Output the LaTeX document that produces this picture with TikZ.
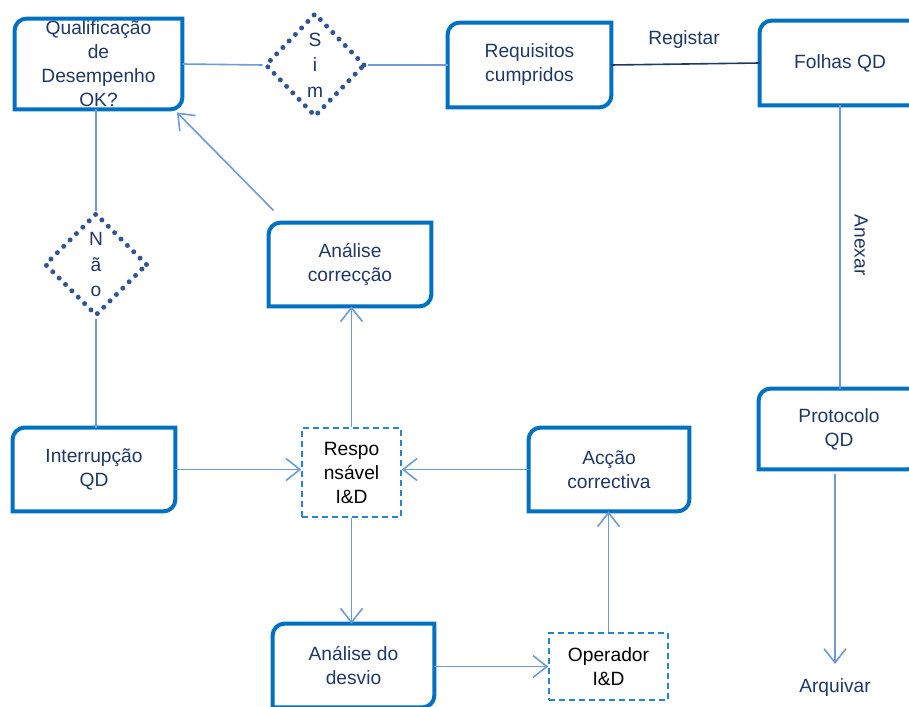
\documentclass[tikz,border=0pt]{standalone}
\usepackage{fontspec}
\setmainfont{Liberation Sans}
\usepackage{tikz}
\usetikzlibrary{shapes.geometric,arrows.meta}

\definecolor{qdblue}{HTML}{0070C0}
\definecolor{qdline}{HTML}{6D9BD6}
\definecolor{qdtext}{HTML}{1F3864}
\definecolor{qddot}{HTML}{2F5597}

\tikzset{
  box/.style={inner sep=0pt, text=qdtext, align=center},
  dbox/.style={draw=qdblue!85, line width=0.75pt, dash pattern=on 3pt off 2pt,
    inner sep=0pt, align=center},
  dmd/.style={diamond, draw=qddot, line width=2.5pt, line cap=round,
    dash pattern=on 0pt off 4.5pt, inner sep=0pt, text=qdtext, align=center},
  con/.style={draw=qdline, line width=0.8pt},
  arr/.style={con, -{Straight Barb[length=7pt,width=11pt]}},
  lbl/.style={text=qdtext},
}

\begin{document}
\begin{tikzpicture}[x=0.5pt,y=-0.5pt,font=\fontsize{9.6}{12}\selectfont]
      \useasboundingbox (0,0) rectangle (909,706);
      \clip (0,0) rectangle (909,706);

      % top row
      \node[box, minimum width=83.5pt, minimum height=45pt] (qual) at (98.5,64) {Qualificação\\de\\Desempenho\\OK?};
      \node[dmd, minimum width=50pt, minimum height=52pt, font=\fontsize{9.6}{12.8}\selectfont] (sim) at (315,65) {S\\i\\m};
      \node[box, minimum width=81.5pt, minimum height=42pt] (req) at (529.5,65) {Requisitos\\cumpridos};
      \node[box, minimum width=80pt, minimum height=42pt] (folhas) at (840,63) {Folhas QD};

      % middle
      \node[dmd, minimum width=51.5pt, minimum height=51.5pt, font=\fontsize{9.6}{12.8}\selectfont] (nao) at (96,264.5) {N\\ã\\o};
      \node[box, minimum width=81pt, minimum height=41.5pt] (analcor) at (350,264.5) {Análise\\correcção};
      \node[box, minimum width=80pt, minimum height=40pt] (protocolo) at (839,429) {Protocolo\\QD};

      % lower part
      \node[box, minimum width=81pt, minimum height=41.5pt] (interr) at (94,469.5) {Interrupção\\QD};
      \node[dbox, minimum width=49.5pt, minimum height=44.5pt] (resp) at (351.5,472.5) {Respo\\nsável\\I\&D};
      \node[box, minimum width=80pt, minimum height=41.5pt] (acc) at (609,469.5) {Acção\\correctiva};
      \node[box, minimum width=80.5pt, minimum height=41.5pt] (analdes) at (353.5,665.5) {Análise do\\desvio};
      \node[dbox, minimum width=59.5pt, minimum height=33.5pt] (oper) at (608.5,666.5) {Operador\\I\&D};

      % labels
      \node[lbl] (reg) at (684,40) {Registar};
      \node[lbl, rotate=-90] (anx) at (861,245) {Anexar};
      \node[lbl] (arq) at (835,688) {Arquivar};

      % box outlines, round top left and bottom right
      \foreach \n in {qual,req,folhas,analcor,protocolo,interr,acc,analdes} {
        \draw[qdblue, line width=2pt] ([yshift=-6pt]\n.north west)
          arc[start angle=180, end angle=90, radius=6pt] -- (\n.north east)
          -- ([yshift=6pt]\n.south east)
          arc[start angle=0, end angle=-90, radius=6pt] -- (\n.south west) -- cycle;
      }

      % connectors
      \draw[con] (qual.east) -- (sim.west);
      \draw[con] (sim.east) -- (req.west);
      \draw[draw=qdtext, line width=0.8pt] (req.east) -- (folhas.west);
      \draw[con] (qual.south -| nao.north) -- (nao.north);
      \draw[con] (nao.south) -- (nao.south |- interr.north);
      \draw[arr] ([xshift=2.5pt,yshift=6pt]analcor.north west) -- ([xshift=-2.75pt,yshift=-1.5pt]qual.south east);
      \draw[arr] (interr.east) -- (interr.east -| resp.west);
      \draw[arr] (acc.west) -- (acc.west -| resp.east);
      \draw[arr] (resp.north) -- (resp.north |- analcor.south);
      \draw[arr] (resp.south) -- (resp.south |- analdes.north);
      \draw[arr] (analdes.east |- oper.west) -- (oper.west);
      \draw[arr] (oper.north) -- (oper.north |- acc.south);
      \draw[con] (folhas.south) -- (folhas.south |- protocolo.north);
      \draw[arr, shorten <=2.5pt, shorten >=4pt] (protocolo.south -| arq.north) -- (arq.north);
\end{tikzpicture}
\end{document}
